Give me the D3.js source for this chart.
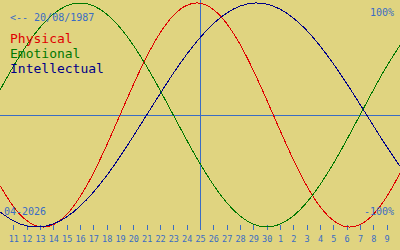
<!DOCTYPE html>
<html>
<head>
<meta charset="utf-8">
<script src="https://cdn.jsdelivr.net/npm/d3@7"></script>
<style>
    body { margin: 0; background: #e0d480; }
    svg { display: block; }
    text { font-family: "DejaVu Sans Mono", monospace; }
</style>
</head>
<body>
<svg width="400" height="250"></svg>
<script>
// day of month for each column, 10 April to 10 May 2026
var dayLabels = [10, 11, 12, 13, 14, 15, 16, 17, 18, 19, 20, 21, 22, 23, 24, 25,
    26, 27, 28, 29, 30, 1, 2, 3, 4, 5, 6, 7, 8, 9, 10];

// cycle values, one per day (-1 .. 1)
var physical = [-0.631, -0.817, -0.942, -0.998, -0.979, -0.888, -0.731, -0.520,
    -0.270, 0, 0.270, 0.520, 0.731, 0.888, 0.979, 0.998, 0.942, 0.817, 0.631,
    0.398, 0.136, -0.136, -0.398, -0.631, -0.817, -0.942, -0.998, -0.979, -0.888,
    -0.731, -0.520];
var emotional = [0.223, 0.434, 0.623, 0.782, 0.901, 0.975, 1.000, 0.975, 0.901,
    0.782, 0.623, 0.434, 0.223, 0, -0.223, -0.434, -0.623, -0.782, -0.901, -0.975,
    -1.000, -0.975, -0.901, -0.782, -0.623, -0.434, -0.223, 0, 0.223, 0.434, 0.623];
var intellectual = [-0.866, -0.945, -0.990, -0.999, -0.972, -0.910, -0.815, -0.690,
    -0.541, -0.372, -0.189, 0, 0.189, 0.372, 0.541, 0.690, 0.815, 0.910, 0.972,
    0.999, 0.990, 0.945, 0.866, 0.756, 0.618, 0.458, 0.282, 0.095, -0.095, -0.282,
    -0.458];

var series = [
    {name: 'Physical', values: physical, color: '#e00000'},
    {name: 'Emotional', values: emotional, color: '#007800'},
    {name: 'Intellectual', values: intellectual, color: '#000088'}
];

var birthLabel = '<-- 20/08/1987';
var monthLabel = '04-2026';
var todayIndex = 15; // 25 April
var axisBlue = '#3a6cc4';

var svg = d3.select('svg');
var svgWidth = +svg.attr('width');

var xScale = d3.scaleLinear()
    .domain([0, dayLabels.length - 1])
    .range([0, svgWidth]);
var yScale = d3.scaleLinear()
    .domain([-1, 1])
    .range([227, 3]);

// zero line and today marker
svg.append('line')
    .attr('x1', 0).attr('x2', svgWidth)
    .attr('y1', yScale(0) + 0.5).attr('y2', yScale(0) + 0.5)
    .attr('stroke', axisBlue);
svg.append('line')
    .attr('x1', xScale(todayIndex) + 0.5).attr('x2', xScale(todayIndex) + 0.5)
    .attr('y1', 0).attr('y2', 230)
    .attr('stroke', axisBlue);

// day axis
var xAxis = d3.axisBottom(xScale)
    .tickValues(d3.range(1, dayLabels.length - 1))
    .tickFormat(i => dayLabels[i])
    .tickSize(5)
    .tickPadding(6);
var axisG = svg.append('g')
    .attr('transform', 'translate(0, 225)')
    .call(xAxis);
axisG.select('.domain').remove();
axisG.selectAll('line')
    .attr('stroke', axisBlue)
    .style('shape-rendering', 'crispEdges');
axisG.selectAll('text')
    .attr('fill', axisBlue)
    .style('font-family', '"DejaVu Sans Mono", monospace')
    .style('font-size', '8.5px');

// curves
var line = d3.line()
    .x((d, i) => xScale(i))
    .y(d => yScale(d))
    .curve(d3.curveNatural);

svg.selectAll('.cycle')
    .data(series)
    .enter()
    .append('path')
    .attr('class', 'cycle')
    .attr('d', d => line(d.values))
    .attr('fill', 'none')
    .attr('stroke', d => d.color)
    .attr('stroke-width', 1)
    .style('shape-rendering', 'crispEdges');

// labels
svg.append('text')
    .attr('x', 10).attr('y', 21)
    .attr('fill', axisBlue)
    .style('font-size', '10px')
    .text(birthLabel);

svg.selectAll('.legend')
    .data(series)
    .enter()
    .append('text')
    .attr('class', 'legend')
    .attr('x', 10)
    .attr('y', (d, i) => 43 + i * 15)
    .attr('fill', d => d.color)
    .style('font-size', '13px')
    .text(d => d.name);

svg.append('text')
    .attr('x', 394).attr('y', 16)
    .attr('text-anchor', 'end')
    .attr('fill', axisBlue)
    .style('font-size', '10px')
    .text('100%');
svg.append('text')
    .attr('x', 394).attr('y', 215)
    .attr('text-anchor', 'end')
    .attr('fill', axisBlue)
    .style('font-size', '10px')
    .text('-100%');
svg.append('text')
    .attr('x', 4).attr('y', 215)
    .attr('fill', axisBlue)
    .style('font-size', '10px')
    .text(monthLabel);
</script>
</body>
</html>
